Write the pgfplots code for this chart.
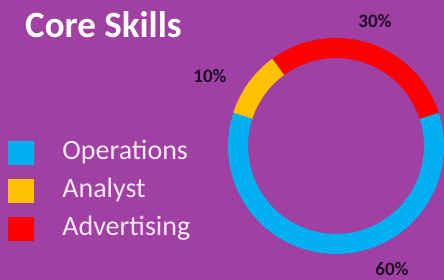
\documentclass[border=0pt]{standalone}
\usepackage{fontspec}
\setmainfont{Carlito}
\usepackage{pgfplots}
\usepackage{pgfplotstable}
\pgfplotsset{compat=1.18}
\definecolor{bgpurple}{RGB}{160,64,162}
\definecolor{opsblue}{RGB}{0,176,240}
\definecolor{anayellow}{RGB}{255,192,0}
\definecolor{advred}{RGB}{255,0,0}
\definecolor{labeldark}{RGB}{30,12,40}
\definecolor{legtext}{RGB}{252,232,250}
\pgfplotstableread{
label value
Operations 60
Analyst 10
Advertising 30
}\skills
\pgfplotstablegetelem{0}{value}\of\skills \let\vA\pgfplotsretval
\pgfplotstablegetelem{1}{value}\of\skills \let\vB\pgfplotsretval
\pgfplotstablegetelem{2}{value}\of\skills \let\vC\pgfplotsretval
\pgfmathsetmacro\aStart{18}
\pgfmathsetmacro\aA{\aStart-3.6*\vA}
\pgfmathsetmacro\aB{\aA-3.6*\vB}
\pgfmathsetmacro\aC{\aB-3.6*\vC}
\begin{document}
\begin{tikzpicture}
\useasboundingbox (0,0) rectangle (444pt,280pt);
\fill[bgpurple] (0,0) rectangle (444pt,280pt);
\begin{axis}[
  scale only axis, width=444pt, height=280pt,
  xmin=0, xmax=444, ymin=0, ymax=280,
  hide axis, clip=false,
  legend cell align=left,
  legend image code/.code={\fill[#1] (0pt,-11.5pt) rectangle (25pt,11.5pt);},
  legend style={at={(axis description cs:0.018,0.50)}, anchor=north west,
    draw=none, fill=none, inner sep=0pt, outer sep=0pt,
    font=\fontsize{28}{38}\selectfont, text=legtext,
    nodes={inner sep=0pt, text height=20pt, text depth=6pt},
    row sep=12pt, column sep=29pt},
]
\fill[opsblue, shift={(axis cs:336,134)}] (\aStart:108pt) arc[start angle=\aStart, end angle=\aA, radius=108pt] -- (\aA:88pt) arc[start angle=\aA, end angle=\aStart, radius=88pt] -- cycle;
\fill[anayellow, shift={(axis cs:336,134)}] (\aA:108pt) arc[start angle=\aA, end angle=\aB, radius=108pt] -- (\aB:88pt) arc[start angle=\aB, end angle=\aA, radius=88pt] -- cycle;
\fill[advred, shift={(axis cs:336,134)}] (\aB:108pt) arc[start angle=\aB, end angle=\aC, radius=108pt] -- (\aC:88pt) arc[start angle=\aC, end angle=\aB, radius=88pt] -- cycle;
\addlegendimage{opsblue}\addlegendentry{Operations}
\addlegendimage{anayellow}\addlegendentry{Analyst}
\addlegendimage{advred}\addlegendentry{Advertising}
\node[anchor=base west, inner sep=0pt, text=white, font=\bfseries\fontsize{37}{40}\selectfont] at (axis cs:25,242) {Core Skills};
\node[inner sep=0pt, text=labeldark, font=\bfseries\fontsize{19}{22}\selectfont] at (axis cs:375,259) {30\%};
\node[inner sep=0pt, text=labeldark, font=\bfseries\fontsize{19}{22}\selectfont] at (axis cs:210,204) {10\%};
\node[inner sep=0pt, text=labeldark, font=\bfseries\fontsize{19}{22}\selectfont] at (axis cs:392,11) {60\%};
\end{axis}
\end{tikzpicture}
\end{document}
